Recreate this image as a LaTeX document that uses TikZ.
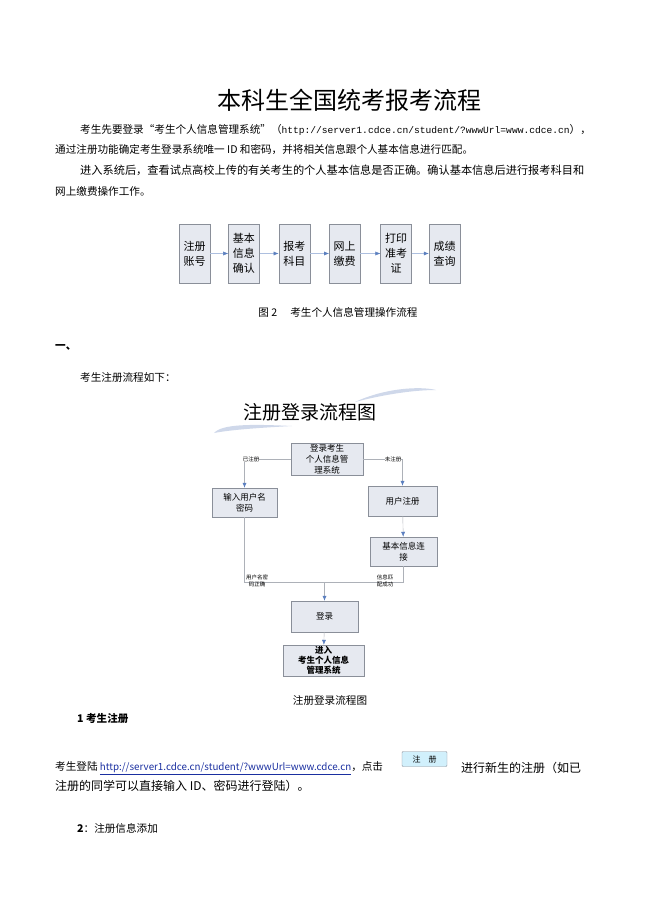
\documentclass[tikz,border=0pt]{standalone}
\usepackage{fontspec}
\setmainfont{Liberation Serif}
\newfontfamily\cjk{Noto Sans CJK SC}
\newfontfamily\urlfont{Liberation Mono}
\usetikzlibrary{positioning,arrows.meta}
\definecolor{boxfill}{HTML}{E6E9F0}
\definecolor{boxline}{HTML}{8A8F99}
\definecolor{arrowblue}{HTML}{5B7FBF}
\definecolor{linkblue}{HTML}{1A2FA0}
\tikzset{
  body/.style={anchor=west, inner sep=0pt, font=\cjk\fontsize{10.6}{12}\selectfont},
  stepbox/.style={draw=boxline, fill=boxfill, minimum width=31pt, minimum height=59pt,
    inner sep=1pt, align=center, font=\cjk\fontsize{11}{15}\selectfont},
  flowbox/.style={draw=boxline, fill=boxfill, inner sep=1pt, align=center,
    font=\cjk\fontsize{8.5}{11}\selectfont},
  flowline/.style={draw=boxline!70},
  flowarrow/.style={boxline!70, -{Latex[length=5pt,width=4pt,color=arrowblue]}},
  steparrow/.style={arrowblue!50, -{Latex[length=5pt,width=4pt,color=arrowblue]}},
  tiny/.style={inner sep=0pt, align=center, fill=white, font=\cjk\fontsize{5.5}{6.5}\selectfont},
}
\begin{document}
\begin{tikzpicture}[x=1pt,y=-1pt]
\useasboundingbox (0,0) rectangle (650,920);

% heading and opening text
\node (title) at (349,100) {\cjk\fontsize{24}{28}\selectfont 本科生全国统考报考流程};
\node[body] (p1) at (80,130) {考生先要登录“考生个人信息管理系统”（{\urlfont\fontsize{9.6}{11}\selectfont http://server1.cdce.cn/student/?wwwUrl=www.cdce.cn}），};
\node[body] (p2) at (55,150) {通过注册功能确定考生登录系统唯一 ID 和密码，并将相关信息跟个人基本信息进行匹配。};
\node[body, font=\cjk\fontsize{11.2}{12}\selectfont] (p3) at (80,170) {进入系统后，查看试点高校上传的有关考生的个人基本信息是否正确。确认基本信息后进行报考科目和};
\node[body] (p4) at (55,191) {网上缴费操作工作。};

% operation steps
\node[stepbox] (s1) at (194.5,253.5) {注册\\账号};
\node[stepbox, right=18pt of s1] (s2) {基本\\信息\\确认};
\node[stepbox, right=19pt of s2] (s3) {报考\\科目};
\node[stepbox, right=19pt of s3] (s4) {网上\\缴费};
\node[stepbox, right=20pt of s4] (s5) {打印\\准考\\证};
\node[stepbox, right=17pt of s5] (s6) {成绩\\查询};
\foreach \a/\b in {s1/s2,s2/s3,s3/s4,s4/s5,s5/s6}
  \draw[steparrow] (\a) -- (\b);

\node[body, anchor=center] (cap1) at (338,312) {图 2 \quad 考生个人信息管理操作流程};
\node[body] (one) at (55,347) {\textbf{一、}};
\node[body] (p5) at (80,377) {考生注册流程如下：};

% login flow chart
\fill[boxfill!60!arrowblue!60] (355,402) .. controls (385,388) and (420,386) .. (436,390)
  .. controls (418,390) and (390,393) .. (355,402) -- cycle;
\fill[boxfill!60!arrowblue!60] (214,433) .. controls (222,424) and (250,424) .. (292,426)
  .. controls (255,428) and (230,430) .. (214,433) -- cycle;
\node (ftitle) at (310,412) {\cjk\fontsize{19}{22}\selectfont 注册登录流程图};

\node[flowbox, minimum width=72pt, minimum height=30pt] (login) at (327,459) {登录考生\\个人信息管\\理系统};
\node[flowbox, minimum width=65pt, minimum height=29pt] (user) at (244.5,502.5) {输入用户名\\密码};
\node[flowbox, minimum width=69pt, minimum height=30pt] (reg) at (402.5,501) {用户注册};
\node[flowbox, minimum width=67pt, minimum height=29pt] (info) at (403.5,551.5) {基本信息连\\接};
\node[flowbox, minimum width=67pt, minimum height=31pt] (enter) at (324.5,616.5) {登录};
\node[flowbox, minimum width=81pt, minimum height=31pt, font=\cjk\bfseries\fontsize{8.5}{10}\selectfont] (sys) at (323.5,660.5) {进入\\考生个人信息\\管理系统};
\coordinate (jl) at (user.south |- 0,582);
\coordinate (jr) at (info.south |- 0,582);
\coordinate (jm) at (enter.north |- 0,582);

\draw[flowarrow] (login.west) -| (user.north);
\draw[flowarrow] (login.east) -| (reg.north);
\draw[flowarrow] (reg) -- (info);
\draw[flowline] (user.south) -- (jl) -- (jm);
\draw[flowline] (info.south) -- (jr) -- (jm);
\draw[flowarrow] (jm) -- (enter.north);
\draw[flowarrow] (enter) -- (sys);
\node[tiny] (lreg) at (251,459) {已注册};
\node[tiny] (lnew) at (393,459) {未注册};
\node[tiny, fill=none] (lok) at (257,581) {用户名密\\码正确};
\node[tiny, fill=none] (lmatch) at (385,581) {信息匹\\配成功};

\node[body, anchor=center] (cap2) at (330,700) {注册登录流程图};

% registration text
\node[body] (h1) at (77,718) {\textbf{1 考生注册}};
\node[body] (p6) at (55,768) {考生登陆 {\color{linkblue}\underline{\fontsize{9.8}{11}\selectfont http://server1.cdce.cn/student/?wwwUrl=www.cdce.cn}}，点击};
\node[draw=boxline, fill=cyan!18, rounded corners=1pt, minimum width=45pt, minimum height=15pt,
  inner sep=0pt, font=\cjk\fontsize{8}{9}\selectfont] (btn) at (424.5,759) {注\quad 册};
\node[body] (p7) at (461,768) {\fontsize{12}{13}\selectfont 进行新生的注册（如已};
\node[body] (p8) at (55,786) {\fontsize{12}{13}\selectfont 注册的同学可以直接输入 ID、密码进行登陆）。};
\node[body] (h2) at (77,828) {\textbf{2}：注册信息添加};
\end{tikzpicture}
\end{document}
